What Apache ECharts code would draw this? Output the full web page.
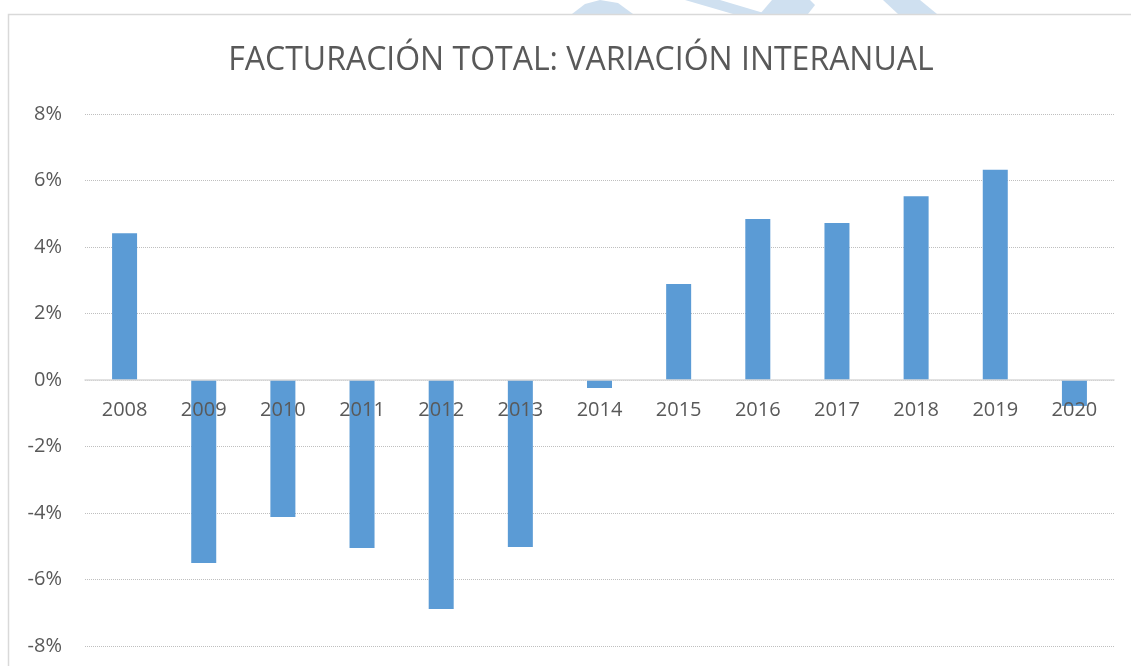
<!DOCTYPE html>
<html>
<head>
<meta charset="utf-8">
<script src="https://cdn.jsdelivr.net/npm/echarts@6/dist/echarts.min.js"></script>
<style>
  html, body { margin: 0; padding: 0; background: #fff; }
  #chart { width: 1131px; height: 666px; }
</style>
</head>
<body>
<div id="chart"></div>
<script>
// años y variación interanual (%)
var years = ['2008', '2009', '2010', '2011', '2012', '2013', '2014', '2015', '2016', '2017', '2018', '2019', '2020'];
var variacion = [4.41, -5.50, -4.12, -5.05, -6.89, -5.02, -0.24, 2.89, 4.84, 4.72, 5.53, 6.32, -0.78];
var yTicks = [-8, -6, -4, -2, 0, 2, 4, 6, 8];

var myChart = echarts.init(document.getElementById('chart'));
var font = '"Open Sans", "Noto Sans", sans-serif';

myChart.setOption({
  animation: false,
  backgroundColor: '#fff',
  color: ['#5B9BD5'],
  title: {
    text: 'FACTURACIÓN TOTAL: VARIACIÓN INTERANUAL',
    left: 576,
    textAlign: 'center',
    top: 40,
    textStyle: { fontFamily: font, fontSize: 32, fontWeight: 'normal', color: '#595959' }
  },
  // marco y marca de agua de fondo
  graphic: [
    { type: 'polygon', z: -10, shape: { points: [[572, 14], [585, 4], [600, 0], [618, 3], [633, 14]] }, style: { fill: '#CFE0F0' } },
    { type: 'polygon', z: -10, shape: { points: [[685, 0], [720, 0], [767, 14], [733, 14]] }, style: { fill: '#CFE0F0' } },
    { type: 'polygon', z: -10, shape: { points: [[760, 14], [772, 0], [810, 0], [815, 5], [808, 14]] }, style: { fill: '#CFE0F0' } },
    { type: 'polygon', z: -10, shape: { points: [[883, 0], [920, 0], [937, 14], [898, 14]] }, style: { fill: '#CFE0F0' } },
    { type: 'rect', z: -5, shape: { x: 8.5, y: 14.5, width: 1140, height: 700 }, style: { fill: '#fff', stroke: '#D9D9D9', lineWidth: 1.5 } }
  ],
  grid: { left: 85, right: 17, top: 114, bottom: 20, outerBoundsMode: 'none' },
  xAxis: {
    type: 'category',
    data: years,
    position: 'bottom',
    offset: -266,
    z: 5,
    axisLine: { onZero: false, lineStyle: { color: '#D9D9D9', width: 1.5 } },
    axisTick: { show: false },
    axisLabel: { margin: 20, fontFamily: font, fontSize: 20, color: '#595959' }
  },
  yAxis: {
    type: 'value',
    min: -8,
    max: 8,
    interval: 2,
    axisLine: { show: false },
    axisTick: { show: false },
    axisLabel: {
      margin: 23,
      fontFamily: font,
      fontSize: 20,
      color: '#595959',
      formatter: function (v) { return yTicks.indexOf(v) >= 0 ? v + '%' : ''; }
    },
    splitLine: { lineStyle: { color: '#BFBFBF', type: [1, 1], width: 1 } }
  },
  series: [
    {
      name: 'Variación',
      type: 'bar',
      barWidth: 25,
      data: variacion
    }
  ]
});
</script>
</body>
</html>
